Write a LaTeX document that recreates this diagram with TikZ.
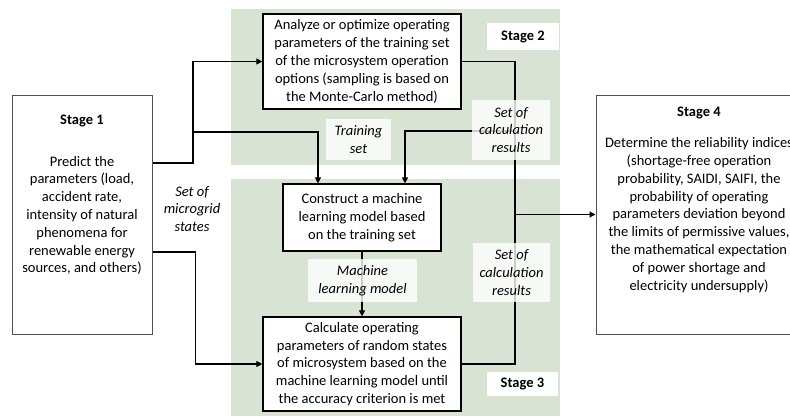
\documentclass[tikz,border=0pt]{standalone}
\usepackage{fontspec}
\setmainfont{Carlito}
\usetikzlibrary{arrows.meta}
\definecolor{panelgreen}{RGB}{217,227,211}
\definecolor{edgegray}{RGB}{80,80,80}
\newcommand\diagfont{\fontsize{14.5}{17.8}\selectfont}
\tikzset{
  stagebox/.style={draw=edgegray, line width=1pt, fill=white},
  procbox/.style={draw=black, line width=1.2pt, fill=white, align=center, inner sep=0pt},
  tagbox/.style={fill=white, fill opacity=0.8, text opacity=1, align=center, inner sep=0pt, font=\diagfont\itshape},
  stagetag/.style={fill=white, inner sep=0pt, font=\diagfont\bfseries},
  flow/.style={-{Triangle[length=6pt,width=6pt]}, line width=1.1pt},
  bus/.style={line width=1.1pt}
}
\begin{document}
\begin{tikzpicture}[x=1pt,y=-1pt,font=\diagfont]
\useasboundingbox (0,0) rectangle (790,418);
\clip (0,0) rectangle (790,418);
% green panels for stages 2 and 3
\fill[panelgreen] (231,9) rectangle (560,165);
\fill[panelgreen] (231,179) rectangle (560,416);
% stage 1 and stage 4 frames
\node[stagebox, minimum width=140pt, minimum height=239pt] (stageone) at (82,214.5) {};
\node (stageonehead) at (82,121) {\bfseries Stage 1};
\node[align=center] (stageonebody) at (82,215.5) {Predict the\\ parameters (load,\\ accident rate,\\ intensity of natural\\ phenomena for\\ renewable energy\\ sources, and others)};
\node[stagebox, minimum width=206pt, minimum height=239pt] (stagefour) at (699,214.5) {};
\node (stagefourhead) at (699,113) {\bfseries Stage 4};
\node[align=center] (stagefourbody) at (699,215) {Determine the reliability indices\\ (shortage-free operation\\ probability, SAIDI, SAIFI, the\\ probability of operating\\ parameters deviation beyond\\ the limits of permissive values,\\ the mathematical expectation\\ of power shortage and\\ electricity undersupply)};
\node[align=center, font=\diagfont\itshape] (states) at (192,209) {Set of\\ microgrid\\ states};
% process boxes
\node[procbox, minimum width=198pt, minimum height=95pt] (analyze) at (362,61.5) {Analyze or optimize operating\\ parameters of the training set\\ of the microsystem operation\\ options (sampling is based on\\ the Monte-Carlo method)};
\node[procbox, minimum width=158pt, minimum height=67pt] (construct) at (362,217.5) {Construct a machine\\ learning model based\\ on the training set};
\node[procbox, minimum width=198pt, minimum height=94pt] (calculate) at (362,364) {Calculate operating\\ parameters of random states\\ of microsystem based on the\\ machine learning model until\\ the accuracy criterion is met};
\coordinate (fork) at (193,132);
\coordinate (busx) at (515,0);
% connectors
\draw[flow] ([yshift=51.5pt]stageone.east) -| (fork) |- (analyze.west);
\draw[flow] (fork) -| ([xshift=-44pt]construct.north);
\draw[flow] ([yshift=-37.5pt]stageone.east) -- ++(43,0) |- (calculate.west);
\draw[bus] (analyze.east) -- (analyze.east -| busx) -- (calculate.east -| busx) -- (calculate.east);
\draw[flow] (stagefour.west -| busx) -- (stagefour.west);
\draw[flow] (busx |- 0,131) -| ([xshift=43pt]construct.north);
\draw[flow] (construct.south) -- (calculate.north);
% labels on the connectors
\node[tagbox, minimum width=65pt, minimum height=41pt] (trainset) at (358.5,139.5) {Training\\ set};
\node[tagbox, minimum width=78pt, minimum height=60pt] (resultsup) at (511,130) {Set of\\ calculation\\ results};
\node[tagbox, minimum width=77pt, minimum height=59pt] (resultsdown) at (511.5,272.5) {Set of\\ calculation\\ results};
\node[tagbox, minimum width=109pt, minimum height=43pt] (mlmodel) at (362.5,280.5) {Machine\\ learning model};
\node[stagetag, minimum width=72pt, minimum height=27pt] (stagetwo) at (523,36.5) {Stage 2};
\node[stagetag, minimum width=71pt, minimum height=24pt] (stagethree) at (522.5,384) {Stage 3};
\end{tikzpicture}
\end{document}
